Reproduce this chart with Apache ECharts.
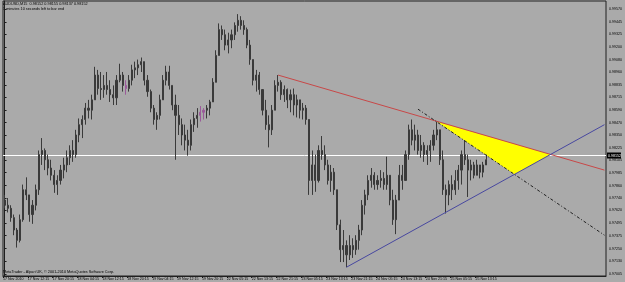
<!DOCTYPE html>
<html><head><meta charset="utf-8">
<script src="https://cdn.jsdelivr.net/npm/echarts@6/dist/echarts.min.js"></script>
<style>html,body{margin:0;padding:0;background:#aaaaaa;}#c{width:625px;height:282px;}</style>
</head><body><div id="c"></div>
<script>
// x-axis tick labels (every 8 hourly bars)
const tickLabels = ["17 Nov 2010","17 Nov 12:15","17 Nov 20:15","18 Nov 04:15","18 Nov 12:15","18 Nov 20:15","19 Nov 04:15","19 Nov 12:15","19 Nov 20:15","22 Nov 05:15","22 Nov 13:15","22 Nov 21:15","23 Nov 05:15","23 Nov 13:15","23 Nov 21:15","24 Nov 05:15","24 Nov 13:15","24 Nov 21:15","25 Nov 05:15","25 Nov 13:15"];
// price-axis tick labels
const yTicks = [0.99570,0.99445,0.99325,0.99200,0.99080,0.98960,0.98835,0.98715,0.98590,0.98470,0.98350,0.98225,0.98105,0.97985,0.97860,0.97740,0.97620,0.97495,0.97375,0.97250,0.97130,0.97005];

const opens = [.9772,.9767,.9764,.9755,.9743,.9733,.9753,.9782,.9777,.9758,
.9767,.9782,.9816,.9820,.9811,.9803,.9796,.9787,.9791,.9801,
.9806,.9813,.9820,.9816,.9835,.9845,.9850,.9861,.9859,.9869,
.9893,.9880,.9879,.9883,.9879,.9874,.9871,.9888,.9893,.9883,
.9880,.9888,.9898,.9900,.9903,.9906,.9888,.9877,.9861,.9850,
.9854,.9869,.9888,.9896,.9883,.9864,.9854,.9845,.9835,.9830,
.9825,.9845,.9851,.9854,.9857,.9859,.9861,.9867,.9886,.9912,
.9937,.9932,.9922,.9927,.9932,.9941,.9946,.9941,.9937,.9922,
.9908,.9888,.9893,.9879,.9859,.9845,.9840,.9859,.9883,.9886,
.9874,.9879,.9869,.9874,.9864,.9869,.9859,.9861,.9850,.9791,
.9806,.9791,.9820,.9816,.9806,.9791,.9799,.9782,.9748,.9724,
.9728,.9719,.9728,.9724,.9733,.9743,.9767,.9777,.9791,.9796,
.9787,.9791,.9793,.9787,.9796,.9772,.9753,.9772,.9796,.9791,
.9816,.9840,.9830,.9835,.9820,.9825,.9816,.9820,.9825,.9835,
.9840,.9811,.9782,.9777,.9787,.9782,.9791,.9801,.9816,.9811,
.9801,.9806,.9796,.9806,.9799,.9806];
const closes = [.9767,.9764,.9755,.9743,.9733,.9753,.9782,.9777,.9758,.9767,
.9782,.9816,.9820,.9811,.9803,.9796,.9787,.9791,.9801,.9806,
.9813,.9820,.9816,.9835,.9845,.9850,.9861,.9859,.9869,.9893,
.9880,.9879,.9883,.9879,.9874,.9871,.9888,.9893,.9883,.9880,
.9888,.9898,.9900,.9903,.9906,.9888,.9877,.9861,.9850,.9854,
.9869,.9888,.9896,.9883,.9864,.9854,.9845,.9835,.9830,.9825,
.9845,.9851,.9854,.9857,.9859,.9861,.9867,.9886,.9912,.9937,
.9932,.9922,.9927,.9932,.9941,.9946,.9941,.9937,.9922,.9908,
.9888,.9893,.9879,.9859,.9845,.9840,.9859,.9883,.9886,.9874,
.9879,.9869,.9874,.9864,.9869,.9859,.9861,.9850,.9791,.9806,
.9791,.9820,.9816,.9806,.9791,.9799,.9782,.9748,.9724,.9728,
.9719,.9728,.9724,.9733,.9743,.9767,.9777,.9791,.9796,.9787,
.9791,.9793,.9787,.9796,.9772,.9753,.9772,.9796,.9791,.9816,
.9840,.9830,.9835,.9820,.9825,.9816,.9820,.9825,.9835,.9840,
.9811,.9782,.9777,.9787,.9782,.9791,.9801,.9816,.9811,.9801,
.9806,.9796,.9806,.9799,.9806,.9811];
const lows = [.9764,.9760,.9751,.9738,.9726,.9731,.9751,.9772,.9751,.9749,
.9762,.9777,.9806,.9801,.9796,.9791,.9779,.9777,.9787,.9793,
.9799,.9806,.9809,.9813,.9828,.9832,.9845,.9851,.9850,.9869,
.9874,.9869,.9871,.9874,.9867,.9864,.9864,.9886,.9877,.9874,
.9877,.9883,.9890,.9893,.9896,.9883,.9872,.9857,.9845,.9840,
.9850,.9869,.9883,.9879,.9859,.9811,.9835,.9825,.9820,.9815,
.9820,.9838,.9842,.9848,.9850,.9851,.9854,.9867,.9886,.9912,
.9927,.9917,.9914,.9919,.9927,.9935,.9937,.9932,.9919,.9903,
.9883,.9877,.9874,.9854,.9840,.9823,.9835,.9859,.9877,.9869,
.9867,.9861,.9857,.9854,.9852,.9851,.9850,.9845,.9777,.9777,
.9780,.9789,.9811,.9801,.9787,.9780,.9777,.9743,.9712,.9712,
.9707,.9714,.9716,.9719,.9724,.9738,.9758,.9772,.9784,.9782,
.9782,.9784,.9782,.9782,.9767,.9748,.9739,.9772,.9782,.9791,
.9811,.9825,.9820,.9816,.9813,.9809,.9806,.9809,.9820,.9830,
.9806,.9777,.9759,.9767,.9772,.9777,.9782,.9787,.9806,.9775,
.9791,.9793,.9796,.9793,.9794,.9806];
const highs = [.9777,.9774,.9767,.9758,.9745,.9758,.9787,.9794,.9777,.9772,
.9787,.9820,.9832,.9822,.9816,.9811,.9801,.9796,.9806,.9813,
.9820,.9825,.9830,.9840,.9851,.9854,.9866,.9869,.9874,.9901,
.9898,.9896,.9893,.9896,.9888,.9883,.9893,.9904,.9896,.9888,
.9893,.9903,.9906,.9908,.9910,.9906,.9893,.9879,.9864,.9857,
.9874,.9893,.9902,.9902,.9883,.9874,.9864,.9851,.9845,.9840,
.9850,.9857,.9861,.9863,.9861,.9864,.9869,.9890,.9917,.9943,
.9941,.9937,.9934,.9937,.9944,.9952,.9950,.9946,.9939,.9927,
.9908,.9898,.9896,.9879,.9869,.9854,.9864,.9888,.9893,.9888,
.9883,.9880,.9879,.9880,.9874,.9869,.9866,.9864,.9850,.9820,
.9816,.9825,.9834,.9825,.9811,.9806,.9803,.9782,.9753,.9743,
.9733,.9738,.9735,.9738,.9748,.9772,.9782,.9796,.9803,.9799,
.9796,.9801,.9799,.9814,.9796,.9782,.9777,.9806,.9806,.9820,
.9845,.9850,.9845,.9840,.9835,.9828,.9825,.9830,.9840,.9848,
.9840,.9820,.9787,.9791,.9796,.9801,.9806,.9820,.9830,.9816,
.9811,.9809,.9811,.9806,.9809,.9816];
const purpleBars = [39, 63, 64];

const currentPrice = 0.98152;
const redLine = [[88, 0.9893], [193, 0.9801]];
const blueLine = [[110, 0.9707], [193, 0.9845]];
const dashLine = [[133, 0.9860], [193, 0.9738]];
const triangle = [[139, 0.9848], [175.8, 0.9816], [164, 0.9797]];

const titleText = 'AUDUSD,M15  0.98152 0.98155 0.98137 0.98152';
const subTitle = '3 minutes 10 seconds left to bar end';
const footText = 'MetaTrader - Alpari UK, \u00A9 2001-2010 MetaQuotes Software Corp.';

const BG = '#aaaaaa', INK = '#000000', BAR = '#3a3a3a', PURPLE = '#9a5a9a';
const FONT = 'Liberation Sans';
const X_MIN = -0.5, X_MAX = 193.5;
const xTickPos = tickLabels.map((_, k) => 8 * k - 0.5);

const candleData = opens.map((o, i) => {
  const item = { value: [i, o, closes[i], lows[i], highs[i]] };
  if (purpleBars.indexOf(i) >= 0) item.itemStyle = { color: PURPLE, color0: PURPLE, borderColor: PURPLE, borderColor0: PURPLE };
  return item;
});

const chart = echarts.init(document.getElementById('c'), null, { renderer: 'canvas' });
chart.setOption({
  backgroundColor: BG,
  animation: false,
  grid: { left: 1, top: 1, right: 15, bottom: 6, show: true, borderColor: '#202020', borderWidth: 1, backgroundColor: BG },
  xAxis: {
    type: 'value', min: X_MIN, max: X_MAX,
    axisLine: { show: true, lineStyle: { color: '#202020', width: 1 } },
    axisTick: { show: true, length: 2, customValues: xTickPos, lineStyle: { color: '#202020' } },
    axisLabel: { customValues: xTickPos, align: 'left', margin: 1, fontSize: 3.6, color: INK, fontFamily: FONT,
      formatter: v => tickLabels[Math.round((v + 0.5) / 8)] },
    splitLine: { show: false }
  },
  yAxis: {
    type: 'value', position: 'right', min: 0.96985, max: 0.99647,
    axisLine: { show: true, lineStyle: { color: '#202020', width: 1 } },
    axisTick: { show: true, length: 2, customValues: yTicks, lineStyle: { color: '#202020' } },
    axisLabel: { customValues: yTicks, margin: 3, fontSize: 3.6, color: INK, fontFamily: FONT,
      formatter: v => v.toFixed(5) },
    splitLine: { show: false }
  },
  series: [
    {
      type: 'custom', z: 1, silent: true, clip: false, data: [[X_MIN, currentPrice]],
      renderItem: (params, api) => {
        const a = api.coord([X_MIN, currentPrice]);
        const b = api.coord([X_MAX, currentPrice]);
        const y = Math.round(a[1]) + 0.5;
        return {
          type: 'group',
          children: [
            { type: 'line', shape: { x1: a[0], y1: y, x2: b[0], y2: y }, style: { stroke: '#ffffff', lineWidth: 1 } },
            { type: 'rect', shape: { x: b[0] + 1, y: y - 3, width: 14, height: 6 }, style: { fill: '#000000' } },
            { type: 'text', x: b[0] + 2, y: y, style: { text: currentPrice.toFixed(5), fill: '#ffffff',
              font: '3.6px "Liberation Sans"', verticalAlign: 'middle', align: 'left' } }
          ]
        };
      }
    },
    {
      type: 'custom', z: 2, silent: true, data: [[0, 0]],
      renderItem: (params, api) => ({
        type: 'polygon',
        shape: { points: triangle.map(p => api.coord(p)) },
        style: { fill: '#ffff00', stroke: null }
      })
    },
    {
      type: 'candlestick', z: 3, barWidth: 1.6, data: candleData,
      encode: { x: 0, y: [1, 2, 3, 4] },
      itemStyle: { color: BAR, color0: BAR, borderColor: BAR, borderColor0: BAR, borderWidth: 1 }
    },
    { type: 'line', z: 4, data: redLine, showSymbol: false, lineStyle: { color: '#c84848', width: 1 } },
    { type: 'line', z: 4, data: blueLine, showSymbol: false, lineStyle: { color: '#4848a0', width: 1 } },
    { type: 'line', z: 4, data: dashLine, showSymbol: false, lineStyle: { color: '#202020', width: 1, type: [3, 2, 1, 2] } }
  ],
  graphic: [
    { type: 'text', left: 3, top: 2, style: { text: titleText, fill: INK, font: '3.8px "Liberation Sans"' } },
    { type: 'text', left: 3, top: 7, style: { text: subTitle, fill: INK, font: '3.8px "Liberation Sans"' } },
    { type: 'text', left: 3, top: 270, style: { text: footText, fill: INK, font: '3.8px "Liberation Sans"' } }
  ]
});
</script></body></html>
